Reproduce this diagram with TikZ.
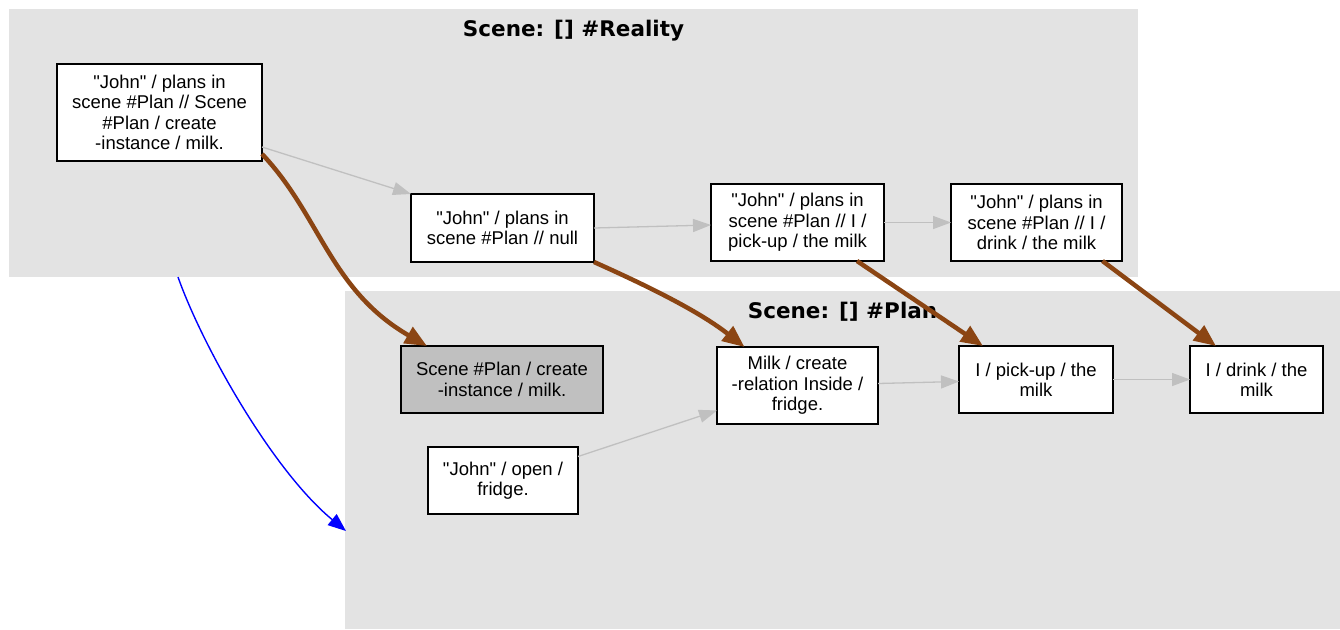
\documentclass[tikz,border=0pt]{standalone}
\usepackage{fontspec}
\setmainfont{Liberation Sans}[Ligatures=TeXOff]
\newfontfamily\titlefont{DejaVu Sans}
\usetikzlibrary{arrows.meta,calc}
\definecolor{clusterfill}{HTML}{E3E3E3}
\definecolor{edgegray}{HTML}{C0C0C0}
\definecolor{brownedge}{HTML}{8B4513}
\definecolor{nodegray}{HTML}{C0C0C0}
\begin{document}
\begin{tikzpicture}[x=1pt,y=-1pt,
  cluster/.style={rectangle,fill=clusterfill,draw=none,inner sep=0pt,outer sep=0pt},
  clustertitle/.style={anchor=base,inner sep=0pt,font=\titlefont\bfseries\fontsize{21.5pt}{24pt}\selectfont},
  box/.style={rectangle,draw=black,line width=1.2pt,fill=white,inner sep=0pt,outer sep=0pt,align=center,
    font=\fontsize{18.5pt}{20.3pt}\selectfont},
  grayedge/.style={draw=edgegray,line width=1.3pt,-{Triangle[length=18pt,width=13pt]}},
  brownedgestyle/.style={draw=brownedge,line width=4.5pt,-{Triangle[length=22pt,width=18pt]}},
  blueedge/.style={draw=blue,line width=1.4pt,-{Triangle[length=18pt,width=14pt]}}]
\useasboundingbox (0,0) rectangle (1340,629);
\fill[white] (0,0) rectangle (1340,629);
% clusters
\node[cluster,minimum width=1129pt,minimum height=268pt] (Reality) at (573.5,143) {};
\node[clustertitle] (RealityTitle) at (573.5,36) {Scene: [] \#Reality};
\node[cluster,minimum width=995pt,minimum height=338pt] (Plan) at (842.5,460) {};
\node[clustertitle] (PlanTitle) at (842.5,318) {Scene: [] \#Plan};
% nodes
\node[box,minimum width=205pt,minimum height=97pt] (A) at (159.5,112.5) {"John" / plans in\\scene \#Plan // Scene\\\#Plan / create\\-instance / milk.};
\node[box,minimum width=183pt,minimum height=68pt] (B) at (502.5,228) {"John" / plans in\\scene \#Plan // null};
\node[box,minimum width=173pt,minimum height=77pt] (C) at (797.5,222.5) {"John" / plans in\\scene \#Plan // I /\\pick-up / the milk};
\node[box,minimum width=171pt,minimum height=77pt] (D) at (1036.5,222.5) {"John" / plans in\\scene \#Plan // I /\\drink / the milk};
\node[box,fill=nodegray,minimum width=202pt,minimum height=67pt] (E) at (502,379.5) {Scene \#Plan / create\\-instance / milk.};
\node[box,minimum width=161pt,minimum height=77pt] (F) at (797.5,385.5) {Milk / create\\-relation Inside /\\fridge.};
\node[box,minimum width=150pt,minimum height=67pt] (G) at (503,480.5) {"John" / open /\\fridge.};
\node[box,minimum width=154pt,minimum height=67pt] (H) at (1036,379.5) {I / pick-up / the\\milk};
\node[box,minimum width=133pt,minimum height=67pt] (I) at (1256.5,379.5) {I / drink / the\\milk};
% gray edges
\draw[grayedge] ([yshift=14pt]A.south east) -- (B.north west);
\draw[grayedge] (B.east) -- ([yshift=-2.5pt]C.west);
\draw[grayedge] (C.east) -- (D.west);
\draw[grayedge] ([yshift=24pt]G.east) -- ([yshift=-25pt]F.west);
\draw[grayedge] ([yshift=2pt]F.east) -- ([yshift=-2pt]H.west);
\draw[grayedge] (H.east) -- (I.west);
% brown edges
\draw[brownedgestyle] ([yshift=7pt]A.south east) .. controls (320,215) and (330,290) .. ([xshift=-75pt]E.north);
\draw[brownedgestyle] (B.south east) .. controls (650,287) and (700,312) .. ([xshift=-53pt]F.north);
\draw[brownedgestyle] ([xshift=59.5pt]C.south) -- ([xshift=-53pt]H.north);
\draw[brownedgestyle] ([xshift=66pt]D.south) -- ([xshift=-40.5pt]I.north);
% blue compound edge
\coordinate (bs) at (178,277);
\coordinate (be) at (346,531);
\draw[blueedge] (bs) .. controls (202,345) and (272,470) .. (be);
\end{tikzpicture}
\end{document}
